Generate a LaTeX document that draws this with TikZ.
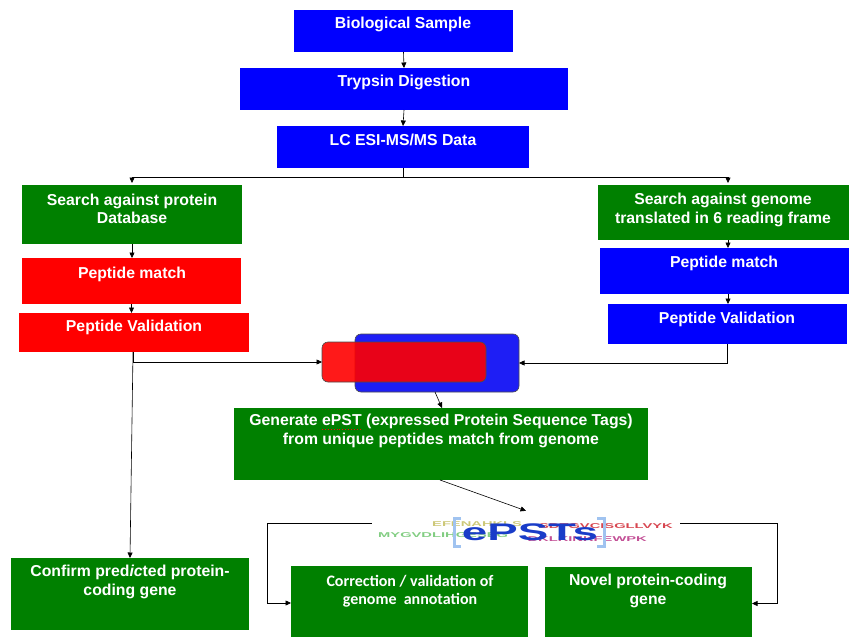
\documentclass[tikz,border=0pt]{standalone}
\usepackage{fontspec}
\setmainfont{Liberation Sans}
\newfontfamily\calib{Carlito}
\usetikzlibrary{arrows.meta,calc}
\definecolor{gbox}{RGB}{0,128,0}
\definecolor{bbox}{RGB}{0,0,255}
\definecolor{rbox}{RGB}{255,0,0}
\definecolor{epblue}{RGB}{25,60,200}
\definecolor{brk}{RGB}{160,195,240}
\definecolor{seqY}{RGB}{205,200,120}
\definecolor{seqG}{RGB}{130,205,130}
\definecolor{seqR}{RGB}{215,70,80}
\definecolor{seqP}{RGB}{195,80,150}
\begin{document}
\begin{tikzpicture}[x=1pt,y=-1pt,
  box/.style={draw=none, inner sep=0pt, outer sep=0pt, anchor=north west},
  lbl/.style={text=white, font=\bfseries\fontsize{15.8}{18.5}\selectfont, align=center, inner sep=0pt},
  clbl/.style={text=white, font=\calib\bfseries\fontsize{16}{18.5}\selectfont, align=center, inner sep=0pt},
  arr/.style={draw=black, line width=0.6pt, -{Triangle[length=5.5pt,width=5pt]}},
  ln/.style={draw=black, line width=0.6pt},
  seq/.style={font=\bfseries\fontsize{7}{7}\selectfont, inner sep=0pt},
  rbx/.style={draw=black!70, line width=0.6pt, rounded corners=6pt, inner sep=0pt, outer sep=0pt, anchor=north west}]
\useasboundingbox (0,0) rectangle (849,637);
% boxes
\node[box, fill=bbox, minimum width=219pt, minimum height=42pt] (bio) at (294,10) {};
\node[box, fill=bbox, minimum width=328pt, minimum height=42pt] (tryp) at (240,68) {};
\node[box, fill=bbox, minimum width=252pt, minimum height=42pt] (lc) at (277,126) {};
\node[box, fill=gbox, minimum width=220pt, minimum height=59pt] (spd) at (22,185) {};
\node[box, fill=rbox, minimum width=219pt, minimum height=46pt] (pm1) at (22,258) {};
\node[box, fill=rbox, minimum width=230pt, minimum height=39pt] (pv1) at (19,313) {};
\node[box, fill=gbox, minimum width=251pt, minimum height=55pt] (sgn) at (598,185) {};
\node[box, fill=bbox, minimum width=249pt, minimum height=46pt] (pm2) at (600,248) {};
\node[box, fill=bbox, minimum width=239pt, minimum height=40pt] (pv2) at (608,304) {};
\node[rbx, fill={rgb,255:red,30;green,30;blue,245}, minimum width=164pt, minimum height=58pt] (blueb) at (355,334) {};
\node[rbx, fill=rbox, fill opacity=0.9, minimum width=164pt, minimum height=40pt] (redb) at (322,342) {};
\node[box, fill=gbox, minimum width=414pt, minimum height=72pt] (gen) at (234,408) {};
\node[box, fill=gbox, minimum width=238pt, minimum height=72pt] (confirm) at (11,558) {};
\node[box, fill=gbox, minimum width=237pt, minimum height=74pt] (corr) at (291,566) {};
\node[box, fill=gbox, minimum width=207pt, minimum height=73pt] (novel) at (545,567) {};
% ePSTs logo
\node[inner sep=0pt, minimum width=308pt, minimum height=24pt] (epst) at (526,523) {};
\node[seq, text=seqY, anchor=west] (s1) at (432,524) {\scalebox{2.1}[1]{EFENAHKLS}};
\node[seq, text=seqR, anchor=east] (s2) at (673,526) {\scalebox{2.1}[1]{SDTGVCISGLLVYK}};
\node[seq, text=seqG, anchor=west] (s3) at (378,535) {\scalebox{2.1}[1]{MYGVDLIHGESEG}};
\node[seq, text=seqP, anchor=east] (s4) at (647,539) {\scalebox{2.1}[1]{DKLKINKFEWPK}};
\draw[brk, line width=3pt] (461,518) -- (454,518) -- (454,546) -- (461,546);
\draw[brk, line width=3pt] (597,518) -- (604,518) -- (604,546) -- (597,546);
\node[inner sep=0pt, text=epblue, font=\bfseries\fontsize{24}{24}\selectfont] (eptxt) at (530,532) {\scalebox{1.9}[1]{ePSTs}};
% connectors
\draw[arr] (bio.south) -- (tryp.north);
\draw[arr] (tryp.south) -- (lc.north);
\draw[ln] (lc.south) -- ++(0,9) coordinate (br);
\draw[arr] (br) -| ([yshift=2pt]spd.north);
\draw[arr] (br) -| ([xshift=4.5pt,yshift=2pt]sgn.north);
\draw[arr] (spd.south) -- (spd.south |- pm1.north);
\draw[arr] (pm1.south) -- (pm1.south |- pv1.north);
\draw[arr] ([xshift=4.5pt]sgn.south) -- ([xshift=4.5pt]sgn.south |- pm2.north);
\draw[arr] ([xshift=3.5pt]pm2.south) -- ([xshift=3.5pt]pm2.south |- pv2.north);
\draw[arr] ([xshift=-1pt]pv1.south) |- (redb.west);
\draw[arr] ([xshift=-1pt]pv1.south) -- (confirm.north);
\draw[arr] (pv2.south) |- (blueb.east);
\draw[arr] ([xshift=-2pt]blueb.south) -- ([xshift=1pt]gen.north);
\draw[arr] ([xshift=-1pt]gen.south) -- (epst.north);
\draw[arr] (epst.west) -- ++(-105,0) |- (corr.west);
\draw[arr] (epst.east) -- ++(97,0) |- (novel.east);
% labels
\node[lbl] (tbio) at (403,24) {Biological Sample};
\node[lbl] (ttryp) at (404,82) {Trypsin Digestion};
\node[lbl] (tlc) at (403,140) {LC ESI-MS/MS Data};
\node[lbl] (tspd) at (132,209) {Search against protein\\Database};
\node[lbl] (tpm1) at (132,274) {Peptide match};
\node[lbl] (tpv1) at (134,327) {Peptide Validation};
\node[lbl] (tsgn) at (723,210) {Search against genome\\translated in 6 reading frame};
\node[lbl] (tpm2) at (724,263) {Peptide match};
\node[lbl] (tpv2) at (727,319) {Peptide Validation};
\node[lbl] (tgen) at (441,431) {Generate ePST (expressed Protein Sequence Tags)\\from unique peptides match from genome};
\draw[red, dotted, line width=0.9pt] (322,429.5) -- (362,429.5);
\node[lbl] (tconf) at (130,582) {Confirm pred\textit{ic}ted protein-\\coding gene};
\node[clbl] (tcorr) at (410,591) {Correction / validation of\\genome\ \ annotation};
\node[lbl] (tnov) at (648,591) {Novel protein-coding\\gene};
\end{tikzpicture}
\end{document}
